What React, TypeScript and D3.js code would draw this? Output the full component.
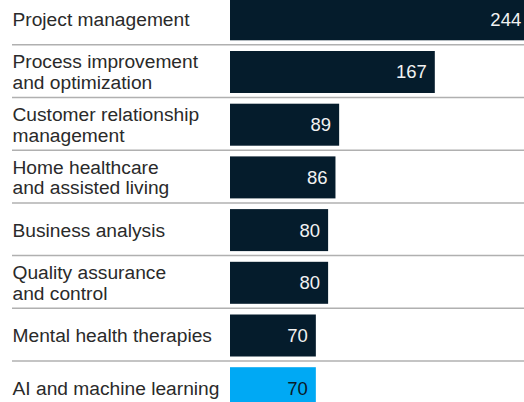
import React from "react";
import * as d3 from "d3";

const categories: string[][] = [
  ["Project management"],
  ["Process improvement", "and optimization"],
  ["Customer relationship", "management"],
  ["Home healthcare", "and assisted living"],
  ["Business analysis"],
  ["Quality assurance", "and control"],
  ["Mental health therapies"],
  ["AI and machine learning"],
];
const values: number[] = [244, 167, 89, 86, 80, 80, 70, 70];
const highlighted: boolean[] = [false, false, false, false, false, false, false, true];

const W = 524;
const H = 402;
const NAVY = "#051C2C";
const CYAN = "#00A9F4";
const FONT = "'Liberation Sans', Arial, sans-serif";

export default function App() {
  const keys = categories.map((c) => c.join(" "));
  const step = 52.7;
  const pIn = 0.203;
  const r0 = -1.7 - step * (pIn / 2);
  const y = d3
    .scaleBand<string>()
    .domain(keys)
    .range([r0, r0 + step * keys.length])
    .paddingInner(pIn)
    .paddingOuter(pIn / 2);
  const x = d3.scaleLinear().domain([0, 244]).range([230, 229.6 + 244 * 1.228]);
  const bw = y.bandwidth();
  const lineH = 20.5;

  return (
    <svg
      width={W}
      height={H}
      style={{ position: "absolute", left: 0, top: 0, overflow: "hidden" }}
      fontFamily={FONT}
    >
      <rect width={W} height={H} fill="#fff" />
      {keys.map((k, i) => {
        const top = y(k) as number;
        const cy = top + bw / 2;
        const lines = categories[i];
        const v = values[i];
        return (
          <g key={k}>
            {lines.map((ln, j) => (
              <text
                key={j}
                x={12.5}
                y={cy + (j - (lines.length - 1) / 2) * lineH}
                dy="0.35em"
                fontSize={19.2}
                fill="#2a2a2a"
              >
                {ln}
              </text>
            ))}
            <rect
              x={x(0)}
              y={top}
              width={x(v) - x(0)}
              height={bw}
              fill={highlighted[i] ? CYAN : NAVY}
            />
            <text
              x={x(v) - 8}
              y={cy}
              dy="0.35em"
              textAnchor="end"
              fontSize={18.5}
              fill={highlighted[i] ? "#0a1a28" : "#f2f2f2"}
            >
              {v}
            </text>
            {i < keys.length - 1 && (
              <line
                x1={12}
                x2={W}
                y1={top + bw + 4.5}
                y2={top + bw + 4.5}
                stroke="#b0b0b0"
                strokeWidth={1.5}
              />
            )}
          </g>
        );
      })}
    </svg>
  );
}
